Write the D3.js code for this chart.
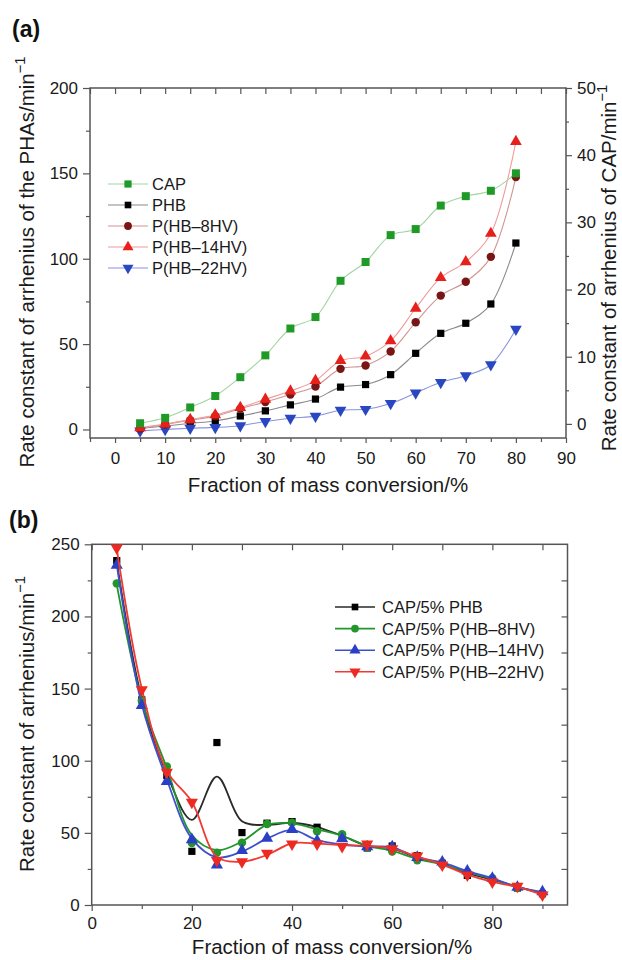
<!DOCTYPE html>
<html><head><meta charset="utf-8">
<script src="https://cdn.jsdelivr.net/npm/d3@7"></script>
<style>
body{margin:0;background:#fff;}
svg{display:block;font-family:"Liberation Sans",Arial,Helvetica,sans-serif;}
</style></head><body>
<svg id="c" width="622" height="960"></svg>
<script>
// ---------- Panel (a) data ----------
const convA = [5,10,15,20,25,30,35,40,45,50,55,60,65,70,75,80];
const capA  = [0.1,0.9,2.45,4.15,6.95,10.2,14.2,15.9,21.3,24.1,28.1,29.0,32.5,33.9,34.7,37.3]; // right axis
const phbA  = [0.6,2.0,3.6,5.0,7.9,10.9,14.4,17.8,24.8,26.3,32.1,44.6,56.3,62.2,73.5,109.2];
const hv8A  = [0.6,2.9,5.4,7.8,12.2,16.1,20.5,25.2,35.5,37.5,45.7,62.8,78.4,86.5,101.1,147.8];
const hv14A = [1.0,3.2,5.8,8.5,12.8,17.7,22.5,28.6,40.3,42.9,51.9,71.0,88.9,98.2,114.8,168.6];
const hv22A = [-0.8,0.0,0.7,1.2,2.2,4.7,6.6,7.8,11.3,11.8,15.2,21.4,27.6,31.5,37.9,58.7];
const legendA = ["CAP","PHB","P(HB–8HV)","P(HB–14HV)","P(HB–22HV)"];
const xTicksA = [0,10,20,30,40,50,60,70,80,90];
const yTicksAL = [0,50,100,150,200];
const yTicksAR = [0,10,20,30,40,50];

// ---------- Panel (b) data ----------
const convB = [5,10,15,20,25,30,35,40,45,50,55,60,65,70,75,80,85,90];
const phbB  = [238.7,142.2,89.7,37.2,112.6,50.2,56.7,57.8,53.9,46.9,39.5,40.9,34.2,28.9,20.5,17.6,11.8,7.8];
const hv8B  = [222.9,141.5,96.0,43.0,36.3,43.2,56.2,57.1,51.1,49.0,40.0,37.0,31.0,28.0,22.7,18.5,11.8,7.8];
const hv14B = [235.4,138.3,85.6,45.3,27.8,37.7,46.3,52.3,44.6,46.0,40.4,40.4,33.0,29.8,23.6,18.5,12.3,9.2];
const hv22B = [247.5,149.2,92.0,71.2,30.8,30.0,35.8,42.3,42.3,40.5,42.2,38.9,34.0,27.8,20.8,15.9,13.0,7.0];
// smoothed fit curves
const phbFit  = [238,143,91,59,89,58,55.5,57,54,48,41,39,33,28.5,22,17.5,12.5,8];
const hv8Fit  = [222,142,95,48.5,38,44,55.5,56.6,52.4,48,41,37.5,32,28,23,18,12.5,8];
const hv14Fit = [236,139,87,46,33,37,46,52,45,42,40.5,40,33,29.5,23.5,18.5,12.5,9];
const hv22Fit = [247,150,93,71.5,33.5,30,34.7,42.8,42.6,41.5,41,39,33.5,28,21,16,12.5,7];
const legendB = ["CAP/5% PHB","CAP/5% P(HB–8HV)","CAP/5% P(HB–14HV)","CAP/5% P(HB–22HV)"];
const xTicksB = [0,20,40,60,80];
const yTicksB = [0,50,100,150,200,250];

const svg = d3.select("#c");
const FRAME = "#555", TXT = "#1a1a1a";

function styleAxis(g, fs){
  g.select(".domain").remove();
  g.selectAll(".tick line").attr("stroke", FRAME).attr("stroke-width", 1.2);
  g.selectAll(".tick text").attr("fill", TXT).style("font-size", fs + "px").style("font-family", '"Liberation Sans",Arial,sans-serif');
}
function marker(g, shape, x, y, color, size){
  let t = shape === "square" ? d3.symbolSquare : shape === "circle" ? d3.symbolCircle : d3.symbolTriangle;
  const p = g.append("path").attr("d", d3.symbol().type(t).size(size)())
    .attr("fill", color);
  if (shape === "down") p.attr("transform", `translate(${x},${y}) rotate(180)`);
  else p.attr("transform", `translate(${x},${y})`);
  return p;
}
function superTitle(g, text, sup, fs){
  const t = g.append("text").attr("fill", TXT).style("font-size", fs + "px").attr("text-anchor","middle");
  t.append("tspan").text(text);
  t.append("tspan").text(sup).attr("dy", -fs*0.45).style("font-size", (fs*0.72) + "px");
  return t;
}

// ================= PANEL (a) =================
const xA  = d3.scaleLinear().domain([-5, 90]).range([90, 566]);
const yAL = d3.scaleLinear().domain([-5, 200]).range([438, 88]);
const yAR = d3.scaleLinear().domain([-2.1, 50]).range([438, 88]);

const gA = svg.append("g");
gA.append("text").attr("x", 12).attr("y", 37).text("(a)").attr("fill","#111")
  .style("font-size","23px").style("font-weight","bold");

gA.append("g").attr("transform","translate(0,438)")
  .call(d3.axisBottom(xA).tickValues(d3.range(-5, 91, 10).filter(v=>v%10!==0)).tickSize(4).tickFormat(""))
  .call(g=>styleAxis(g,17));
gA.append("g").attr("transform","translate(0,438)")
  .call(d3.axisBottom(xA).tickValues(xTicksA).tickSize(5).tickPadding(9))
  .call(g=>styleAxis(g,17));
gA.append("g").attr("transform","translate(0,88)")
  .call(d3.axisTop(xA).tickValues(d3.range(-5, 91, 5)).tickSize(-6).tickFormat(""))
  .call(g=>styleAxis(g,17));
gA.append("g").attr("transform","translate(90,0)")
  .call(d3.axisLeft(yAL).tickValues([25,75,125,175]).tickSize(4).tickFormat(""))
  .call(g=>styleAxis(g,17));
gA.append("g").attr("transform","translate(90,0)")
  .call(d3.axisLeft(yAL).tickValues(yTicksAL).tickSize(7).tickPadding(5))
  .call(g=>styleAxis(g,17));
gA.append("g").attr("transform","translate(566,0)")
  .call(d3.axisRight(yAR).tickValues([5,15,25,35,45]).tickSize(3).tickFormat(""))
  .call(g=>styleAxis(g,17));
gA.append("g").attr("transform","translate(566,0)")
  .call(d3.axisRight(yAR).tickValues(yTicksAR).tickSize(6).tickPadding(5))
  .call(g=>styleAxis(g,17));

gA.append("rect").attr("x",90).attr("y",88).attr("width",476).attr("height",350)
  .attr("fill","none").attr("stroke",FRAME).attr("stroke-width",1.5);

const seriesA = [
  {vals: phbA,  y: yAL, line:"#8a8a8a", col:"#000000", shape:"square", size:52},
  {vals: hv22A, y: yAL, line:"#8893de", col:"#2a47c2", shape:"down",   size:60},
  {vals: hv8A,  y: yAL, line:"#cf9494", col:"#7a1515", shape:"circle", size:56},
  {vals: hv14A, y: yAL, line:"#f39a9a", col:"#e6211c", shape:"triangle", size:60},
  {vals: capA,  y: yAR, line:"#9fd59f", col:"#1f9a27", shape:"square", size:64},
];
seriesA.forEach(s=>{
  const line = d3.line().x((d,i)=>xA(convA[i])).y(d=>s.y(d)).curve(d3.curveCatmullRom.alpha(0.5));
  gA.append("path").attr("d", line(s.vals)).attr("fill","none").attr("stroke",s.line).attr("stroke-width",1.1);
});
seriesA.forEach(s=>{
  s.vals.forEach((v,i)=> marker(gA, s.shape, xA(convA[i]), s.y(v), s.col, s.size));
});

const legAStyle = [
  {line:"#9fd59f", col:"#1f9a27", shape:"square", size:52},
  {line:"#8a8a8a", col:"#000000", shape:"square", size:44},
  {line:"#cf9494", col:"#7a1515", shape:"circle", size:48},
  {line:"#f39a9a", col:"#e6211c", shape:"triangle", size:52},
  {line:"#8893de", col:"#2a47c2", shape:"down", size:52},
];
legendA.forEach((name,i)=>{
  const y = 184 + i*21;
  const st = legAStyle[i];
  gA.append("line").attr("x1",108).attr("x2",148).attr("y1",y).attr("y2",y).attr("stroke",st.line).attr("stroke-width",1.2);
  marker(gA, st.shape, 128, y, st.col, st.size);
  gA.append("text").attr("x",152).attr("y",y).attr("dy","0.36em").text(name)
    .attr("fill",TXT).style("font-size","16.5px");
});

gA.append("text").attr("x",328).attr("y",492).attr("text-anchor","middle").text("Fraction of mass conversion/%")
  .attr("fill",TXT).style("font-size","20.5px");
superTitle(gA, "Rate constant of arrhenius of the PHAs/min", "−1", 20.5)
  .attr("transform","translate(34,262) rotate(-90)");
superTitle(gA, "Rate constant of arrhenius of CAP/min", "−1", 20.5)
  .attr("transform","translate(616,268) rotate(-90)");

// ================= PANEL (b) =================
const xB = d3.scaleLinear().domain([0, 95]).range([91.7, 567.5]);
const yB = d3.scaleLinear().domain([0, 250]).range([905, 544.3]);
const gB = svg.append("g");
gB.append("text").attr("x", 9).attr("y", 528).text("(b)").attr("fill","#111")
  .style("font-size","23px").style("font-weight","bold");

gB.append("g").attr("transform","translate(0,905)")
  .call(d3.axisBottom(xB).tickValues([10,30,50,70,90]).tickSize(4).tickFormat(""))
  .call(g=>styleAxis(g,17));
gB.append("g").attr("transform","translate(0,905)")
  .call(d3.axisBottom(xB).tickValues(xTicksB).tickSize(6).tickPadding(6))
  .call(g=>styleAxis(g,17));
gB.append("g").attr("transform","translate(0,544.3)")
  .call(d3.axisTop(xB).tickValues(d3.range(0, 91, 10)).tickSize(-6).tickFormat(""))
  .call(g=>styleAxis(g,17));
gB.append("g").attr("transform","translate(91.7,0)")
  .call(d3.axisLeft(yB).tickValues([25,75,125,175,225]).tickSize(4).tickFormat(""))
  .call(g=>styleAxis(g,17));
gB.append("g").attr("transform","translate(91.7,0)")
  .call(d3.axisLeft(yB).tickValues(yTicksB).tickSize(7).tickPadding(5))
  .call(g=>styleAxis(g,17));
gB.append("g").attr("transform","translate(567.5,0)")
  .call(d3.axisRight(yB).tickValues(d3.range(25, 250, 25)).tickSize(-6).tickFormat(""))
  .call(g=>styleAxis(g,17));

gB.append("rect").attr("x",91.7).attr("y",544.3).attr("width",475.8).attr("height",360.7)
  .attr("fill","none").attr("stroke",FRAME).attr("stroke-width",1.5);

const seriesB = [
  {pts: phbB,  fit: phbFit,  line:"#2a2a2a", col:"#000000", shape:"square",   size:52},
  {pts: hv8B,  fit: hv8Fit,  line:"#22962b", col:"#22962b", shape:"circle",   size:56},
  {pts: hv14B, fit: hv14Fit, line:"#3d50cc", col:"#2b3fc4", shape:"triangle", size:64},
  {pts: hv22B, fit: hv22Fit, line:"#ee3a33", col:"#ec2a22", shape:"down",     size:64},
];
seriesB.forEach(s=>{
  const line = d3.line().x((d,i)=>xB(convB[i])).y(d=>yB(d)).curve(d3.curveCatmullRom.alpha(0.5));
  gB.append("path").attr("d", line(s.fit)).attr("fill","none").attr("stroke",s.line).attr("stroke-width",1.8);
  s.pts.forEach((v,i)=> marker(gB, s.shape, xB(convB[i]), yB(v), s.col, s.size));
});

legendB.forEach((name,i)=>{
  const y = 607 + i*21.6;
  const s = seriesB[i];
  gB.append("line").attr("x1",335).attr("x2",375).attr("y1",y).attr("y2",y).attr("stroke",s.line).attr("stroke-width",1.6);
  marker(gB, s.shape, 355, y, s.col, s.size*0.85);
  gB.append("text").attr("x",382).attr("y",y).attr("dy","0.36em").text(name)
    .attr("fill",TXT).style("font-size","16.5px");
});

gB.append("text").attr("x",332).attr("y",954).attr("text-anchor","middle").text("Fraction of mass conversion/%")
  .attr("fill",TXT).style("font-size","20.5px");
superTitle(gB, "Rate constant of arrhenius/min", "−1", 20.5)
  .attr("transform","translate(34,724) rotate(-90)");
</script>
</body></html>
